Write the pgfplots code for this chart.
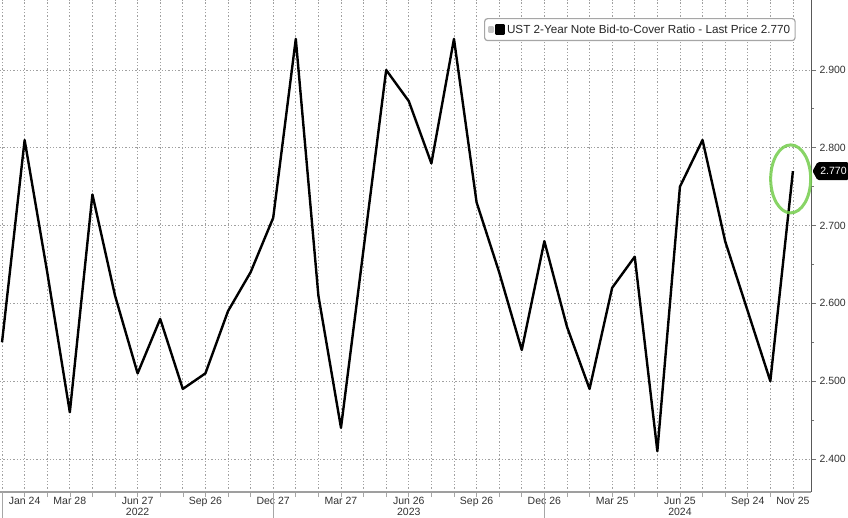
\documentclass[border=0pt]{standalone}
\usepackage{pgfplots}
\pgfplotsset{compat=1.18}
\usepackage{fontspec}
\setmainfont{Liberation Sans}
\definecolor{gridgray}{RGB}{160,160,160}
\definecolor{ticktext}{RGB}{50,50,50}
\definecolor{ringgreen}{RGB}{115,205,75}

% UST 2-year auctions, Dec 2021 (0) to Nov 2024 (35)
\pgfplotstableread{
i btc
0 2.55
1 2.81
2 2.64
3 2.46
4 2.74
5 2.61
6 2.51
7 2.58
8 2.49
9 2.51
10 2.59
11 2.64
12 2.71
13 2.94
14 2.61
15 2.44
16 2.67
17 2.90
18 2.86
19 2.78
20 2.94
21 2.73
22 2.64
23 2.54
24 2.68
25 2.57
26 2.49
27 2.62
28 2.66
29 2.41
30 2.75
31 2.81
32 2.68
33 2.59
34 2.50
35 2.77
}\btctable

\begin{document}
\begin{tikzpicture}[x=1pt,y=1pt]
\begin{axis}[
  at={(0,0)}, anchor=north west,
  width=811pt, height=492pt, scale only axis,
  xmin=-0.09, xmax=35.8, ymin=2.3575, ymax=2.99,
  axis x line=bottom, axis y line=right,
  axis line style={-},
  x axis line style={draw=gray!75, line width=1.8pt},
  y axis line style={draw=black!65, line width=1pt},
  xtick={0,...,35},
  xticklabels={,Jan 24,,Mar 28,,,Jun 27,,,Sep 26,,,Dec 27,,,Mar 27,,,Jun 26,,,Sep 26,,,Dec 26,,,Mar 25,,,Jun 25,,,Sep 24,,Nov 25},
  ytick={2.4,2.5,2.6,2.7,2.8,2.9},
  minor y tick num=1,
  tick align=outside,
  major tick length=5pt, minor tick length=3pt,
  tick style={black!55, line width=0.8pt},
  x tick style={gray!70, line width=0.6pt},
  xmajorgrids, ymajorgrids,
  major grid style={gridgray, line width=0.8pt, dash pattern=on 1.3pt off 2pt},
  /pgf/number format/assume math mode=true,
  yticklabel={\pgfmathprintnumber[fixed,fixed zerofill,precision=3]{\tick}},
  yticklabel style={font=\fontsize{10.5}{12}\selectfont, text=ticktext},
  xticklabel style={font=\fontsize{10.5}{12}\selectfont, text=ticktext, yshift=3pt},
  legend style={at={(rel axis cs:0.5968,0.9634)}, anchor=north west,
    draw=gray!70, line width=1.2pt, rounded corners=3pt,
    font=\fontsize{11.7}{13}\selectfont, text=black!85,
    inner xsep=3pt, inner ysep=4pt},
  legend image code/.code={
    \fill[gray!45, sharp corners] (-1pt,-2pt) rectangle (3pt,2pt);
    \fill[black, sharp corners] (6pt,-4pt) rectangle (14pt,4pt);},
  clip=false,
]
\addplot[black, line width=2.4pt, line join=round] table[x=i, y=btc] {\btctable};
\addlegendentry{UST 2-Year Note Bid-to-Cover Ratio - Last Price 2.770}

\draw[ringgreen, line width=3pt, opacity=0.85] (axis cs:34.9,2.76) ellipse [x radius=20pt, y radius=34pt];

\draw[gray!70, line width=0.6pt] (axis cs:0,2.3575) -- ++(0pt,-26pt);
\draw[gray!70, line width=0.6pt] (axis cs:12,2.3575) -- ++(0pt,-26pt);
\draw[gray!70, line width=0.6pt] (axis cs:24,2.3575) -- ++(0pt,-26pt);
\node[font=\fontsize{10.5}{12}\selectfont, text=ticktext] at (axis cs:6,2.3575) [yshift=-20pt] {2022};
\node[font=\fontsize{10.5}{12}\selectfont, text=ticktext] at (axis cs:18,2.3575) [yshift=-20pt] {2023};
\node[font=\fontsize{10.5}{12}\selectfont, text=ticktext] at (axis cs:30,2.3575) [yshift=-20pt] {2024};

\coordinate (tag) at (axis cs:35.8,2.77);
\end{axis}
\fill[black, rounded corners=1.5pt] (tag) ++(1.5,0) -- ++(5,9) -- ++(31,0) -- ++(0,-18) -- ++(-31,0) -- cycle;
\path (tag) ++(22.5,0) node[text=white, font=\fontsize{10.5}{12}\selectfont, inner sep=0pt] {2.770};
\pgfresetboundingbox
\useasboundingbox (0,0) rectangle (848,-518);
\end{tikzpicture}
\end{document}
